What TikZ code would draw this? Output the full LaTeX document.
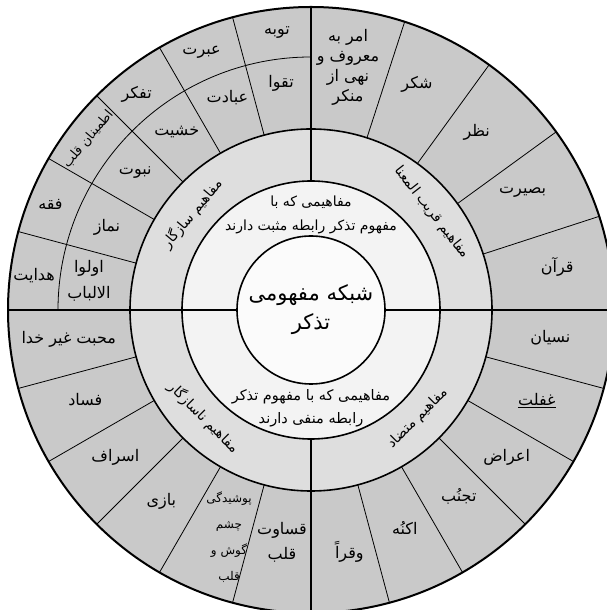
\documentclass[tikz,border=0pt]{standalone}
\usepackage{fontspec}
\newfontfamily\arabicfont[Script=Arabic]{DejaVu Sans}
\TeXXeTstate=1
\newcommand\fatext[1]{\beginR #1\endR}
\definecolor{outerc}{RGB}{201,201,201}
\definecolor{ringc}{RGB}{222,222,222}
\definecolor{textc}{RGB}{243,243,243}
\definecolor{centerc}{RGB}{251,251,251}
\tikzset{
  item/.style={font=\arabicfont\fontsize{16}{20}\selectfont, inner sep=0pt, align=center},
  smallitem/.style={font=\arabicfont\fontsize{12}{26}\selectfont, inner sep=0pt, align=center},
  ringlabel/.style={font=\arabicfont\fontsize{14}{16}\selectfont, inner sep=0pt},
  midtext/.style={font=\arabicfont\fontsize{14}{24}\selectfont, inner sep=0pt, align=center},
  centertext/.style={font=\arabicfont\fontsize{21}{29}\selectfont, inner sep=0pt, align=center},
  thinline/.style={line width=0.8pt, black},
  ringline/.style={line width=1.6pt, black},
  crossline/.style={line width=2.2pt, black},
}
\begin{document}
\begin{tikzpicture}[x=1pt,y=1pt]
\useasboundingbox[fill=white] (0,0) rectangle (607,610);
\begin{scope}[shift={(311,300)}]
  \coordinate (C) at (0,0);
  % fills
  \fill[outerc] (C) circle[radius=303];
  \fill[ringc] (C) circle[radius=181];
  \fill[textc] (C) circle[radius=129];
  \fill[centerc] (C) circle[radius=74];
  % intermediate arc in top-left quadrant
  \draw[thinline] (90:253) arc[start angle=90, end angle=180, radius=253];
  % radial dividers
  \foreach \a in {105,120,135,150,165} \draw[thinline] (\a:181) -- (\a:303);
  \foreach \a in {18,36,54,72} \draw[thinline] (\a:181) -- (\a:303);
  \foreach \a in {-15,-30,-45,-60,-75} \draw[thinline] (\a:181) -- (\a:303);
  \foreach \a in {195,210,225,240,255} \draw[thinline] (\a:181) -- (\a:303);
  % circles
  \draw[line width=2pt] (C) circle[radius=303];
  \draw[ringline] (C) circle[radius=181];
  \draw[ringline] (C) circle[radius=129];
  \draw[ringline] (C) circle[radius=74];
  % cross lines
  \draw[crossline] (90:129) -- (90:303);
  \draw[crossline] (270:129) -- (270:303);
  \draw[crossline] (0:74) -- (0:303);
  \draw[crossline] (180:74) -- (180:303);

  % centre
  \node[centertext] (center) at (0,0) {\fatext{شبکه مفهومی}\\\fatext{تذکر}};
  % text ring
  \node[midtext] (pos) at (0,95.5) {\fatext{مفاهیمی که با}\\\fatext{مفهوم تذکر رابطه مثبت دارند}};
  \node[midtext,font=\arabicfont\fontsize{14.5}{23}\selectfont] (neg) at (0,-98.5) {\fatext{مفاهیمی که با مفهوم تذکر}\\\fatext{رابطه منفی دارند}};
  % ring labels
  \node[ringlabel,rotate=50] (l1) at (141:153) {\fatext{مفاهیم سازگار}};
  \node[ringlabel,rotate=-52] (l2) at (39:155) {\fatext{مفاهیم قریب المعنا}};
  \node[ringlabel,rotate=45] (l3) at (-45.5:152) {\fatext{مفاهیم متضاد}};
  \node[ringlabel,rotate=-45] (l4) at (225:152) {\fatext{مفاهیم ناسازگار}};

  % top-left inner
  \node[item] (t1) at (97.5:229) {\fatext{تقوا}};
  \node[item] (t2) at (111.5:228) {\fatext{عبادت}};
  \node[item] (t3) at (127:223) {\fatext{خشیت}};
  \node[item] (t4) at (142:223) {\fatext{نبوت}};
  \node[item] (t5) at (158:220) {\fatext{نماز}};
  \node[item,font=\arabicfont\fontsize{16}{26}\selectfont] (t6) at (172.5:224) {\fatext{اولوا}\\\fatext{الالباب}};
  % top-left outer
  \node[item] (o1) at (97:280) {\fatext{توبه}};
  \node[item] (o2) at (113:280) {\fatext{عبرت}};
  \node[item] (o3) at (129:277) {\fatext{تفکر}};
  \node[item,font=\arabicfont\fontsize{13}{15}\selectfont,rotate=50] (o4) at (142.5:281) {\fatext{اطمینان قلب}};
  \node[item] (o5) at (158:281) {\fatext{فقه}};
  \node[item] (o6) at (173:279) {\fatext{هدایت}};

  % top-right
  \node[item] (r1) at (37,243) {\fatext{امر به}\\\fatext{معروف و}\\\fatext{نهی از}\\\fatext{منکر}};
  \node[item] (r2) at (64.8:249) {\fatext{شکر}};
  \node[item] (r3) at (47:243) {\fatext{نظر}};
  \node[item] (r4) at (29:242) {\fatext{بصیرت}};
  \node[item] (r5) at (10:250) {\fatext{قرآن}};

  % bottom-right
  \node[item] (b1) at (-6.7:241) {\fatext{نسیان}};
  \node[item] (b2) at (-21.7:243) {\fatext{غفلت}};
  \draw[line width=0.6pt] ([yshift=-1.5pt]b2.south west) -- ([yshift=-1.5pt]b2.south east);
  \node[item] (b3) at (-37:245) {\fatext{اعراض}};
  \node[item] (b4) at (-51.6:238) {\fatext{تجنُب}};
  \node[item] (b5) at (-66.7:237) {\fatext{اکنُه}};
  \node[item] (b6) at (-81:245) {\fatext{وقراً}};

  % bottom-left
  \node[item] (l5) at (186.8:244) {\fatext{محبت غیر خدا}};
  \node[item] (l6) at (201.7:243) {\fatext{فساد}};
  \node[item] (l7) at (217:245) {\fatext{اسراف}};
  \node[item] (l8) at (232:243) {\fatext{بازی}};
  \node[smallitem] (l9) at (-82,-227.5) {\fatext{پوشیدگی}\\\fatext{چشم}\\\fatext{گوش و}\\\fatext{قلب}};
  \node[item,font=\arabicfont\fontsize{16}{25}\selectfont] (l10) at (-29,-232.5) {\fatext{قساوت}\\\fatext{قلب}};
\end{scope}
\end{tikzpicture}
\end{document}
